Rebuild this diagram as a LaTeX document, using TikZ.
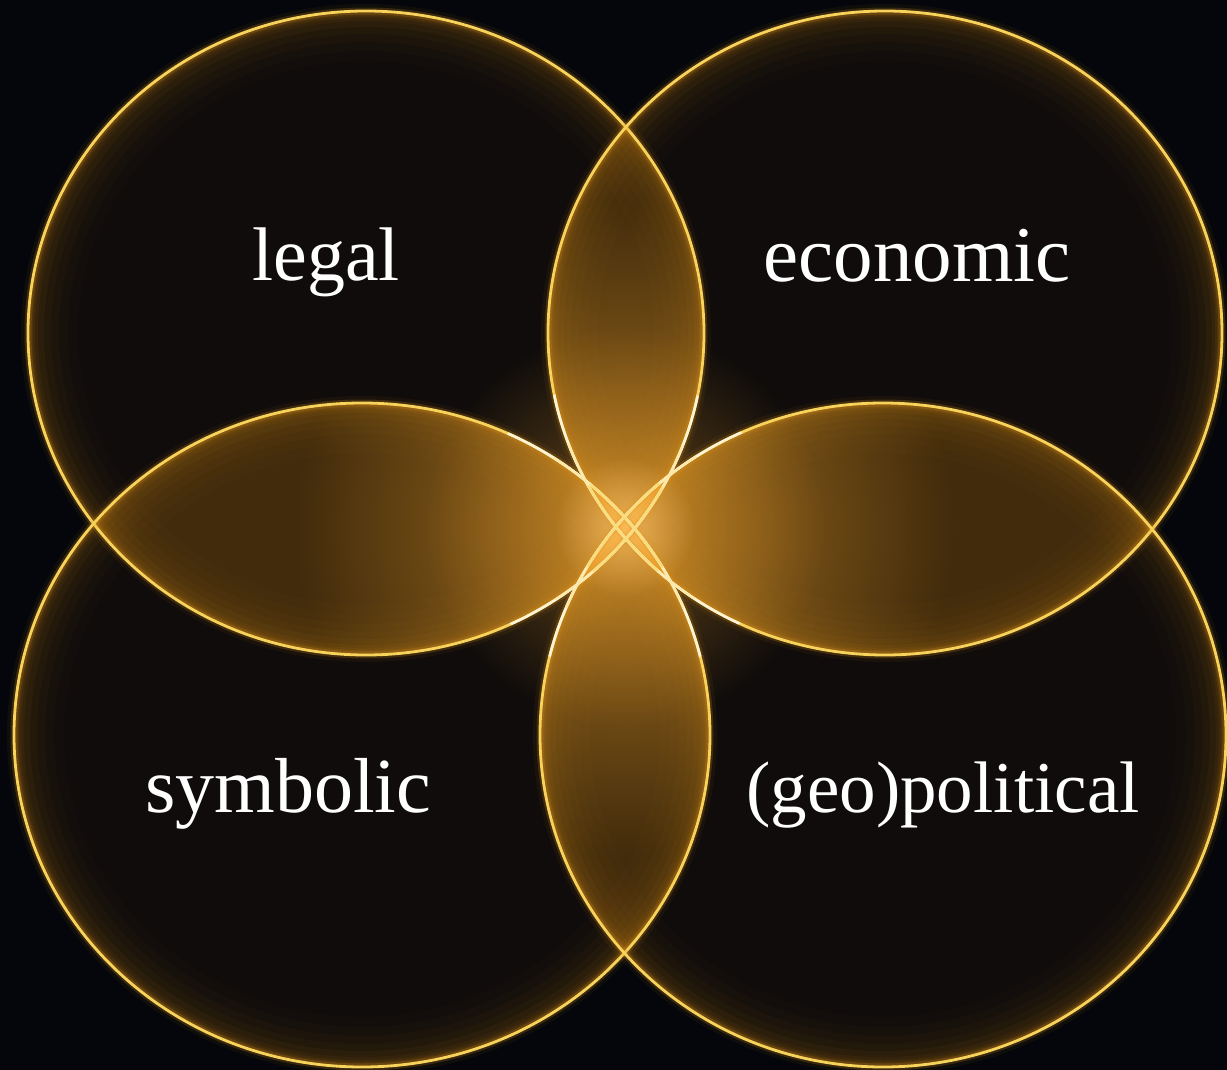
\documentclass[tikz,border=0pt]{standalone}
\usepackage{fontspec}
\setmainfont{Liberation Serif}
\usetikzlibrary{fadings}
\definecolor{bgc}{HTML}{04060B}
\definecolor{goldline}{HTML}{F7D35C}
\definecolor{goldglow}{HTML}{E0921A}
\definecolor{fillc}{HTML}{A0660F}
\definecolor{hotc}{HTML}{FFAE30}
\tikzfading[name=glowfade, inner color=transparent!0, outer color=transparent!100]
\newcommand\ellTL{(366,333) ellipse [x radius=338, y radius=322]}
\newcommand\ellTR{(885,333) ellipse [x radius=337, y radius=322]}
\newcommand\ellBL{(362,735) ellipse [x radius=348, y radius=332]}
\newcommand\ellBR{(883,735) ellipse [x radius=343, y radius=332]}
\begin{document}
\begin{tikzpicture}[x=1pt,y=-1pt,
  lbl/.style={text=white, font=\fontsize{#1}{#1}\selectfont, anchor=base, inner sep=0pt},
  ring/.style={draw=goldline, line width=2.8pt},
  ringglow/.style={draw=goldglow, line width=#1}]
\useasboundingbox (0,0) rectangle (1227,1070);
\fill[bgc] (0,0) rectangle (1227,1070);

% base translucent fills
\foreach \E in {\ellTL,\ellTR,\ellBL,\ellBR}{
  \fill[fillc, opacity=0.07] \E;
}
% extra brightness in overlaps
\foreach \A/\B in {\ellTL/\ellTR,\ellTL/\ellBL,\ellTR/\ellBR,\ellBL/\ellBR,\ellTL/\ellBR,\ellTR/\ellBL}{
  \begin{scope}
    \clip \A;
    \fill[fillc, opacity=0.3] \B;
  \end{scope}
}
% inner glow of each circle
\foreach \E in {\ellTL,\ellTR,\ellBL,\ellBR}{
  \begin{scope}
    \clip \E;
    \foreach \w/\o in {100pt/0.02,80pt/0.025,62pt/0.03,46pt/0.035,32pt/0.045,20pt/0.06,10pt/0.09}{
      \draw[goldglow, line width=\w, opacity=\o] \E;
    }
  \end{scope}
}
% central glow
\fill[hotc, opacity=0.38, path fading=glowfade] (625,527) circle (200);
\foreach \A/\B in {\ellTL/\ellTR,\ellTL/\ellBL,\ellTR/\ellBR,\ellBL/\ellBR}{
  \begin{scope}
    \clip \A; \clip \B;
    \fill[hotc, opacity=0.55, path fading=glowfade] (625,527) circle (330);
  \end{scope}
}
\fill[hotc!60!white, opacity=0.55, path fading=glowfade] (625,527) circle (70);

% outlines with glow
\foreach \E in {\ellTL,\ellTR,\ellBL,\ellBR}{
  \draw[ringglow=14pt, opacity=0.06] \E;
  \draw[ringglow=7pt, opacity=0.2] \E;
  \draw[ring] \E;
}
% whiter lines near the centre
\foreach \r/\m in {150/25,100/50,55/80}{
  \begin{scope}
    \clip (625,527) circle (\r);
    \foreach \E in {\ellTL,\ellTR,\ellBL,\ellBR}{
      \draw[draw=goldline!\m!white, line width=2.6pt] \E;
    }
  \end{scope}
}

% labels
\node[lbl=76] (legal) at (326,280) {legal};
\node[lbl=79] (economic) at (917,281) {economic};
\node[lbl=78] (symbolic) at (288,812) {symbolic};
\node[lbl=73] (geopolitical) at (943,812) {(geo)political};
\end{tikzpicture}
\end{document}
